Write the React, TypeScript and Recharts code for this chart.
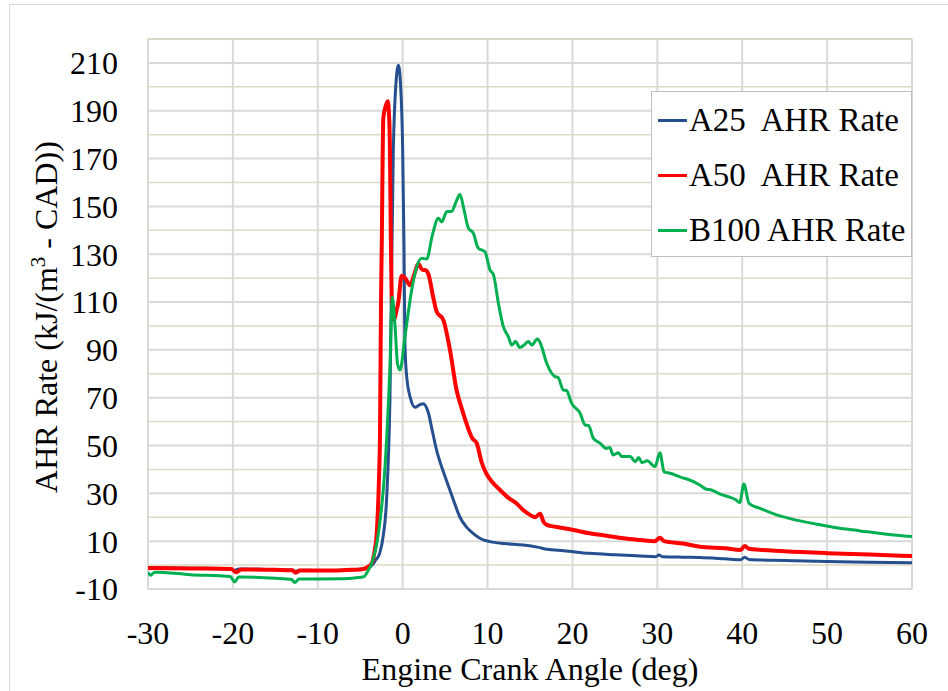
import { LineChart, Line, XAxis, YAxis, CartesianGrid, ReferenceLine } from 'recharts';

const FONT = '"Liberation Serif", "Times New Roman", serif';

// crank angle (deg) / AHR rate samples
const a25Angle = [-30, -25, -20.3, -19.8, -19.3, -15, -13, -12.6, -12.2, -8, -6, -4.5, -4, -3.6, -3.2, -2.7, -2.3, -1.9, -1.5, -1.1, -0.8, -0.5, -0.25, 0, 0.16, 0.27, 0.47, 0.9, 1.45, 2, 2.4, 3, 3.5, 4, 4.6, 5.2, 6, 6.75, 7.5, 8.3, 9.2, 10.3, 12, 14.2, 16, 17, 19, 22, 25, 28, 29.8, 30.2, 30.6, 33, 35, 38, 39.8, 40.3, 40.8, 45, 50, 55, 60];
const a25Rate = [-1, -1.3, -1.5, -2.2, -1.6, -1.9, -2.1, -2.7, -2.2, -2.3, -2, -1.5, -1, 0, 2, 5, 12, 27, 69, 174, 201, 209, 201, 174, 132, 92, 79, 70, 66, 67, 67.5, 64, 56, 48, 41, 35, 27, 20, 16, 13.3, 11, 9.8, 9, 8.4, 7.4, 6.6, 6, 4.9, 4.3, 3.8, 3.5, 4.2, 3.5, 3.3, 3.2, 2.6, 2.2, 3.3, 2.3, 1.9, 1.5, 1.2, 1];

const a50Angle = [-30, -25, -20.2, -19.6, -19, -15, -13, -12.6, -12.1, -8, -6, -4.6, -4.2, -3.65, -3.3, -3.06, -2.8, -2.67, -2.55, -2.47, -2.28, -2, -1.77, -1.6, -1.5, -1.38, -1.18, -1.02, -0.75, -0.51, -0.12, 0.3, 0.86, 1.4, 1.84, 2.3, 2.63, 3, 3.6, 4, 4.79, 5.57, 6.36, 7, 7.54, 8.2, 8.72, 9.3, 9.9, 10.5, 11.47, 12.5, 13.43, 14.2, 15, 15.6, 16.2, 16.6, 17, 18, 20.1, 22, 24, 26, 28, 29.7, 30.3, 30.8, 33, 35, 38, 39.8, 40.3, 40.8, 45, 50, 55, 60];
const a50Rate = [-1.2, -1.4, -1.6, -3, -1.8, -2, -2.2, -3.2, -2.3, -2.3, -2, -1.6, -1, 0.7, 6, 13, 35, 55, 111, 132, 187, 192, 194, 188, 174, 132, 104, 102.5, 106, 110, 121, 120, 117, 122, 126, 123.5, 123.4, 122, 112, 106, 102.5, 90, 73, 65, 59, 53, 51, 43, 38, 35, 31.4, 28, 25.8, 23, 21, 20, 21.5, 18, 16.8, 16, 14.7, 13.3, 12.3, 11.2, 10.5, 10, 11.4, 10, 9, 7.7, 7, 6.3, 8, 6.8, 5.8, 5, 4.4, 3.8];

const b100Angle = [-30, -29.7, -29.2, -25, -20.3, -19.8, -19.3, -15, -13.1, -12.7, -12.2, -10, -7, -5.5, -4.6, -4.1, -3.65, -2.87, -2.08, -1.5, -1.22, -0.9, -0.6, -0.31, 0.27, 1.06, 1.6, 2.24, 2.83, 3.5, 4.2, 4.6, 5.19, 5.78, 6.3, 6.75, 7.2, 7.73, 8.32, 8.91, 9.7, 10.29, 10.68, 11.3, 11.86, 12.45, 12.85, 13.3, 13.8, 14.3, 14.8, 15.2, 15.87, 16.2, 16.97, 17.94, 18.3, 18.92, 19.3, 19.9, 20.9, 21.5, 21.9, 22.46, 23.25, 24, 24.4, 24.8, 25.4, 25.8, 26.8, 27.4, 27.8, 28.2, 28.8, 29.73, 30.3, 30.8, 31.5, 32.87, 33.5, 35, 35.8, 36.3, 37.4, 38.6, 39.2, 39.7, 40.2, 40.8, 42.1, 44.06, 46, 48.8, 50.7, 53.9, 57, 60];
const b100Rate = [-3, -4.2, -3, -4, -4.8, -7, -5, -5.5, -6, -7.3, -5.8, -5.8, -5.7, -5.3, -4.9, -2.5, 0.7, 13, 41, 83, 112, 100, 84, 81.6, 95.5, 115, 124, 128.3, 128, 138, 145, 143.5, 147.8, 148, 152, 155, 149, 141, 138.8, 132.5, 131, 123.4, 121.6, 109, 99.7, 95.5, 92, 93.5, 91, 92, 93.5, 92, 94.5, 93, 84.4, 78.8, 78.5, 73.2, 73, 67.7, 63.5, 58.6, 58.4, 53, 51, 48.8, 49.2, 46, 47, 45.4, 45.4, 43.2, 45, 42.8, 43.6, 41.2, 47, 39, 38.4, 36.6, 36, 33.5, 31.7, 31.5, 29.7, 28.3, 27.4, 26.1, 33.9, 25.8, 23.7, 21, 19.1, 17.1, 15.8, 14.3, 12.9, 11.9];

const xTicks = [-30, -20, -10, 0, 10, 20, 30, 40, 50, 60];
const yTicks = [-10, 10, 30, 50, 70, 90, 110, 130, 150, 170, 190, 210];
const yMinor = [0, 20, 40, 60, 80, 100, 120, 140, 160, 180, 200, 220];

const toPoints = (xs: number[], ys: number[]) => xs.map((x, i) => ({ x, y: ys[i] }));

const SERIES = [
  { name: 'A25  AHR Rate', color: '#254f8e', width: 3, data: toPoints(a25Angle, a25Rate) },
  { name: 'A50  AHR Rate', color: '#ff0000', width: 4, data: toPoints(a50Angle, a50Rate) },
  { name: 'B100 AHR Rate', color: '#00b050', width: 3, data: toPoints(b100Angle, b100Rate) },
];

function YTitle() {
  return (
    <text x={57} y={317} transform="rotate(-90, 57, 317)" textAnchor="middle" fontSize={32} fontFamily={FONT} fill="#000">
      AHR Rate (kJ/(m<tspan dy={-12} fontSize={21}>3</tspan>
      <tspan dy={12}> - CAD))</tspan>
    </text>
  );
}

function XTitle() {
  return (
    <text x={530} y={680} textAnchor="middle" fontSize={32} fontFamily={FONT} fill="#000">
      Engine Crank Angle (deg)
    </text>
  );
}

function ChartLegend() {
  return (
    <div
      style={{
        position: 'absolute',
        left: 651,
        top: 91,
        width: 259,
        height: 164,
        border: '1px solid #bfbfbf',
        background: '#fff',
        fontFamily: FONT,
        fontSize: 33,
        color: '#000',
      }}
    >
      {SERIES.map((s, i) => (
        <div key={s.name} style={{ position: 'absolute', left: 6, top: 10 + i * 55, display: 'flex', alignItems: 'center', whiteSpace: 'pre' }}>
          <span style={{ display: 'inline-block', width: 29, height: 3, background: s.color, marginRight: 2 }} />
          <span style={{ lineHeight: '36px' }}>{s.name}</span>
        </div>
      ))}
    </div>
  );
}

export default function App() {
  return (
    <div style={{ position: 'absolute', left: 0, top: 0, width: 948, height: 691, overflow: 'hidden', background: '#fff' }}>
      <div style={{ position: 'absolute', left: 9, top: 4, width: 960, height: 720, border: '1px solid #d9d9d9' }} />
      <div style={{ position: 'absolute', left: 0, top: 0 }}>
        <LineChart width={948} height={691} margin={{ top: 39, right: 36, bottom: 42, left: 0 }}>
          {yMinor.map((v) => (
            <ReferenceLine key={v} y={v} stroke="#ddd9c3" strokeWidth={1.5} />
          ))}
          <CartesianGrid stroke="#d9d9d9" strokeWidth={2} />
          <XAxis
            type="number"
            dataKey="x"
            domain={[-30, 60]}
            ticks={xTicks}
            allowDataOverflow
            axisLine={false}
            tickLine={false}
            tickSize={0}
            tickMargin={32}
            height={60}
            tick={{ fontSize: 32, fontFamily: FONT, fill: '#000' }}
            label={<XTitle />}
          />
          <YAxis
            type="number"
            domain={[-10, 220]}
            ticks={yTicks}
            allowDataOverflow
            axisLine={false}
            tickLine={false}
            tickSize={0}
            tickMargin={30}
            width={148}
            interval={0}
            tick={{ fontSize: 32, fontFamily: FONT, fill: '#000' }}
            label={<YTitle />}
          />
          {SERIES.map((s) => (
            <Line
              key={s.name}
              data={s.data}
              dataKey="y"
              name={s.name}
              type="monotone"
              stroke={s.color}
              strokeWidth={s.width}
              dot={false}
              activeDot={false}
              isAnimationActive={false}
            />
          ))}
        </LineChart>
      </div>
      <ChartLegend />
    </div>
  );
}
